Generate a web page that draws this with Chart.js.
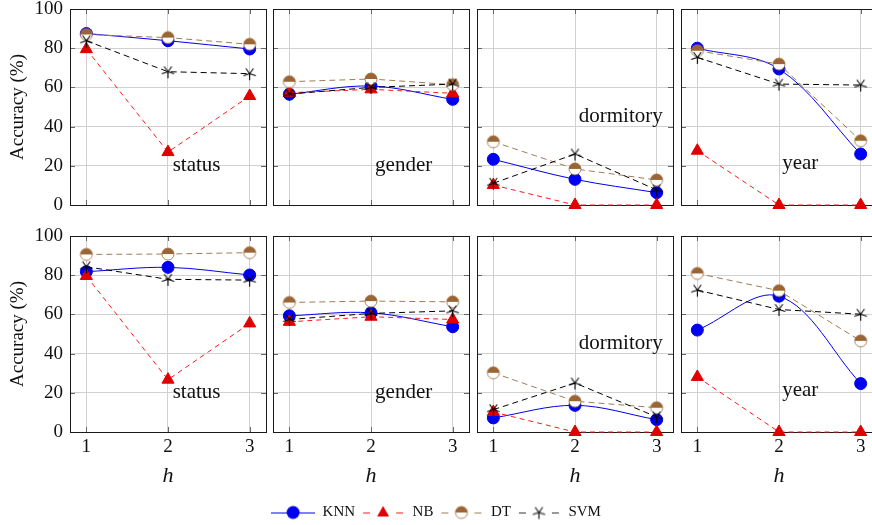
<!DOCTYPE html>
<html>
<head>
<meta charset="utf-8">
<script src="https://cdn.jsdelivr.net/npm/chart.js@4.4.1/dist/chart.umd.min.js"></script>
<style>
  html, body { margin: 0; padding: 0; background: #fff; }
  body { width: 872px; height: 525px; overflow: hidden; position: relative; }
  canvas { position: absolute; left: 0; top: 0; }
</style>
</head>
<body>
<script>
// Data
const hValues = [1, 2, 3];
const attributes = ['status', 'gender', 'dormitory', 'year'];
const yTicks = [0, 20, 40, 60, 80, 100];
const seriesNames = ['KNN', 'NB', 'DT', 'SVM'];

// top row: one [h=1, h=2, h=3] list per attribute
const knnTop = [[87.5, 83.8, 79.6], [56.5, 60.7, 53.9], [23.3, 13.1, 6.3], [80, 69.4, 26]];
const nbTop  = [[79.5, 27, 55.6], [57.3, 59, 57], [10.2, 0, 0], [27.7, 0, 0]];
const dtTop  = [[87, 85.4, 82], [62.9, 64.3, 61.4], [32.3, 18.4, 12.8], [78.7, 71.9, 32.8]];
const svmTop = [[83.8, 68, 67], [56.6, 60, 61.7], [11.1, 26, 7.7], [75.3, 61.7, 61.2]];

// bottom row
const knnBottom = [[81.8, 84, 80.1], [59.3, 60.8, 53.7], [7.2, 13.6, 6.3], [52, 69.3, 24.7]];
const nbBottom  = [[79.6, 26.7, 55.4], [56.2, 58.8, 57.4], [10.2, 0, 0], [28.1, 0, 0]];
const dtBottom  = [[90.6, 90.8, 91.5], [66.1, 66.8, 66.4], [30.2, 15.7, 12.4], [80.9, 72.1, 46.5]];
const svmBottom = [[84.3, 77.9, 77.5], [57.4, 60.5, 61.8], [11.4, 25, 7.7], [72.4, 62.5, 60.1]];

// where each attribute name sits (axis units)
const labelAt = [[2.35, 20], [2.4, 20], [2.56, 45], [2.26, 21]];

const rows = [
    { knn: knnTop, nb: nbTop, dt: dtTop, svm: svmTop },
    { knn: knnBottom, nb: nbBottom, dt: dtBottom, svm: svmBottom }
];

// Layout
const W = 900, H = 525;
const colLeft = [70, 273, 477, 681];
const rowTop = [9, 236];
const PW = 196, PH = 196;
const FONT = '"Liberation Serif", "Times New Roman", serif';

const colors = {
    knn: '#0000f0',
    nbLine: '#ff1a1a',
    nbMark: '#e00000',
    dtLine: '#a07a55',
    dtMark: '#9a6434',
    svm: '#000000',
    grid: '#d0d0d0'
};

// Custom markers
function halfCircle(r) {
    const cv = document.createElement('canvas');
    const s = Math.ceil(2 * r + 4);
    cv.width = s; cv.height = s;
    const c = cv.getContext('2d');
    const m = s / 2;
    c.fillStyle = '#fff';
    c.beginPath(); c.arc(m, m, r, 0, Math.PI * 2); c.fill();
    c.fillStyle = colors.dtMark;
    c.beginPath(); c.arc(m, m, r, Math.PI, Math.PI * 2); c.closePath(); c.fill();
    c.strokeStyle = colors.dtMark; c.lineWidth = 0.8;
    c.beginPath(); c.arc(m, m, r, 0, Math.PI * 2); c.stroke();
    return cv;
}

function starMark(r) {
    const cv = document.createElement('canvas');
    const s = Math.ceil(2 * r + 4);
    cv.width = s; cv.height = s;
    const c = cv.getContext('2d');
    const m = s / 2;
    c.strokeStyle = '#000'; c.lineWidth = 1.1;
    c.beginPath();
    for (let k = 0; k < 5; k++) {
        const a = (90 + 72 * k) * Math.PI / 180;
        c.moveTo(m, m);
        c.lineTo(m + r * Math.cos(a), m + r * Math.sin(a));
    }
    c.stroke();
    return cv;
}

const dtMarker = halfCircle(6);
const svmMarker = starMark(6.5);

// Frame with inward ticks, like pgfplots
const framePlugin = {
    id: 'panelFrame',
    beforeDatasetsDraw(chart) {
        const { ctx, chartArea: a, scales } = chart;
        ctx.save();
        ctx.strokeStyle = '#666';
        ctx.lineWidth = 1;
        ctx.beginPath();
        yTicks.forEach(v => {
            const y = Math.round(scales.y.getPixelForValue(v)) + 0.5;
            ctx.moveTo(a.left, y); ctx.lineTo(a.left + 5, y);
            ctx.moveTo(a.right, y); ctx.lineTo(a.right - 5, y);
        });
        hValues.forEach(v => {
            const x = Math.round(scales.x.getPixelForValue(v)) + 0.5;
            ctx.moveTo(x, a.top); ctx.lineTo(x, a.top + 5);
            ctx.moveTo(x, a.bottom); ctx.lineTo(x, a.bottom - 5);
        });
        ctx.stroke();
        ctx.strokeStyle = '#1a1a1a';
        ctx.strokeRect(a.left + 0.5, a.top + 0.5, a.right - a.left, a.bottom - a.top);
        ctx.restore();
    }
};

// Attribute name inside each panel
const labelPlugin = {
    id: 'panelLabel',
    afterDatasetsDraw(chart, args, opts) {
        const { ctx, scales } = chart;
        ctx.save();
        ctx.font = '21px ' + FONT;
        ctx.fillStyle = '#111';
        ctx.textAlign = 'center';
        ctx.textBaseline = 'middle';
        ctx.fillText(opts.text, scales.x.getPixelForValue(opts.at[0]), scales.y.getPixelForValue(opts.at[1]));
        ctx.restore();
    }
};

function pts(arr) {
    return hValues.map((h, i) => ({ x: h, y: arr[i] }));
}

function noPad(s) {
    s.paddingTop = 0; s.paddingBottom = 0; s.paddingLeft = 0; s.paddingRight = 0;
}

function makePanel(r, c) {
    const cv = document.createElement('canvas');
    cv.width = W; cv.height = H;
    document.body.appendChild(cv);

    const first = c === 0;
    const bottom = r === 1;
    const yw = first ? colLeft[0] : 0;
    const xh = bottom ? 60 : 0;
    const d = rows[r];

    new Chart(cv, {
        type: 'line',
        data: {
            datasets: [
                {
                    label: 'KNN', data: pts(d.knn[c]), order: 4,
                    borderColor: colors.knn, backgroundColor: colors.knn,
                    borderWidth: 1, tension: 0.35,
                    pointStyle: 'circle', pointRadius: 6, pointBorderWidth: 1,
                    pointBackgroundColor: colors.knn, pointBorderColor: colors.knn,
                    clip: false
                },
                {
                    label: 'NB', data: pts(d.nb[c]), order: 3,
                    borderColor: colors.nbLine, borderWidth: 1, borderDash: [5, 4],
                    pointStyle: 'triangle', pointRadius: 7, pointBorderWidth: 1,
                    pointBackgroundColor: colors.nbMark, pointBorderColor: colors.nbMark,
                    clip: false
                },
                {
                    label: 'DT', data: pts(d.dt[c]), order: 2,
                    borderColor: colors.dtLine, borderWidth: 1, borderDash: [6, 4],
                    pointStyle: dtMarker, pointRadius: 6,
                    clip: false
                },
                {
                    label: 'SVM', data: pts(d.svm[c]), order: 1,
                    borderColor: colors.svm, borderWidth: 1, borderDash: [6, 4],
                    pointStyle: svmMarker, pointRadius: 6,
                    clip: false
                }
            ]
        },
        options: {
            responsive: false,
            animation: false,
            devicePixelRatio: 1,
            events: [],
            layout: {
                padding: {
                    left: first ? 0 : colLeft[c],
                    right: W - colLeft[c] - PW,
                    top: rowTop[r],
                    bottom: H - rowTop[r] - PH - xh
                }
            },
            plugins: {
                legend: { display: false },
                tooltip: { enabled: false },
                panelLabel: { text: attributes[c], at: labelAt[c] }
            },
            scales: {
                x: {
                    type: 'linear', min: 0.8, max: 3.2,
                    afterBuildTicks: s => { s.ticks = hValues.map(v => ({ value: v })); },
                    afterFit: s => { s.height = xh; noPad(s); },
                    grid: { color: colors.grid, drawTicks: false },
                    border: { display: false },
                    ticks: {
                        display: bottom, padding: 4, color: '#111',
                        font: { family: FONT, size: 19 },
                        callback: v => String(v)
                    },
                    title: {
                        display: bottom, text: 'h', color: '#111',
                        font: { family: FONT, size: 22, style: 'italic' },
                        padding: { top: 0, bottom: 3 }
                    }
                },
                y: {
                    min: 0, max: 100,
                    afterBuildTicks: s => { s.ticks = yTicks.map(v => ({ value: v })); },
                    afterFit: s => { s.width = yw; noPad(s); },
                    grid: { color: colors.grid, drawTicks: false },
                    border: { display: false },
                    ticks: {
                        display: first, padding: 7, color: '#111',
                        font: { family: FONT, size: 19 }
                    },
                    title: {
                        display: first, text: 'Accuracy (%)', color: '#111',
                        font: { family: FONT, size: 19 },
                        padding: { top: 7, bottom: 0 }
                    }
                }
            }
        },
        plugins: [framePlugin, labelPlugin]
    });
}

for (let r = 0; r < 2; r++) {
    for (let c = 0; c < 4; c++) makePanel(r, c);
}

// Legend samples: line + marker
function legendSample(i) {
    const cv = document.createElement('canvas');
    cv.width = 44; cv.height = 16;
    const c = cv.getContext('2d');
    const y = 8.5;
    c.lineWidth = 1;
    if (i === 0) {
        c.strokeStyle = colors.knn;
        c.beginPath(); c.moveTo(0, y); c.lineTo(44, y); c.stroke();
        c.fillStyle = colors.knn;
        c.beginPath(); c.arc(22, 8, 6.5, 0, Math.PI * 2); c.fill();
    } else {
        c.strokeStyle = [null, colors.nbLine, colors.dtLine, '#333'][i];
        c.beginPath();
        c.moveTo(2, y); c.lineTo(9, y);
        c.moveTo(35, y); c.lineTo(42, y);
        c.stroke();
        if (i === 1) {
            c.fillStyle = colors.nbMark;
            c.beginPath();
            c.moveTo(22, 1.5); c.lineTo(28, 12); c.lineTo(16, 12); c.closePath();
            c.fill();
        } else if (i === 2) {
            c.drawImage(dtMarker, 22 - dtMarker.width / 2, 8 - dtMarker.height / 2);
        } else {
            c.drawImage(svmMarker, 22 - svmMarker.width / 2, 8 - svmMarker.height / 2);
        }
    }
    return cv;
}

const legendSamples = seriesNames.map((n, i) => legendSample(i));

const legendCanvas = document.createElement('canvas');
legendCanvas.width = 872; legendCanvas.height = 530;
document.body.appendChild(legendCanvas);

new Chart(legendCanvas, {
    type: 'line',
    data: {
        datasets: seriesNames.map(n => ({ label: n, data: [] }))
    },
    options: {
        responsive: false,
        animation: false,
        devicePixelRatio: 1,
        events: [],
        layout: { padding: { bottom: 0 } },
        scales: { x: { display: false }, y: { display: false } },
        plugins: {
            tooltip: { enabled: false },
            legend: {
                position: 'bottom',
                labels: {
                    usePointStyle: true,
                    pointStyleWidth: 44,
                    padding: 6,
                    color: '#111',
                    font: { family: FONT, size: 15 },
                    generateLabels: chart => chart.data.datasets.map((ds, i) => ({
                        text: ds.label,
                        pointStyle: legendSamples[i],
                        fillStyle: 'transparent',
                        strokeStyle: 'transparent',
                        lineWidth: 0,
                        hidden: false,
                        datasetIndex: i,
                        fontColor: '#111'
                    }))
                }
            }
        }
    }
});
</script>
</body>
</html>
